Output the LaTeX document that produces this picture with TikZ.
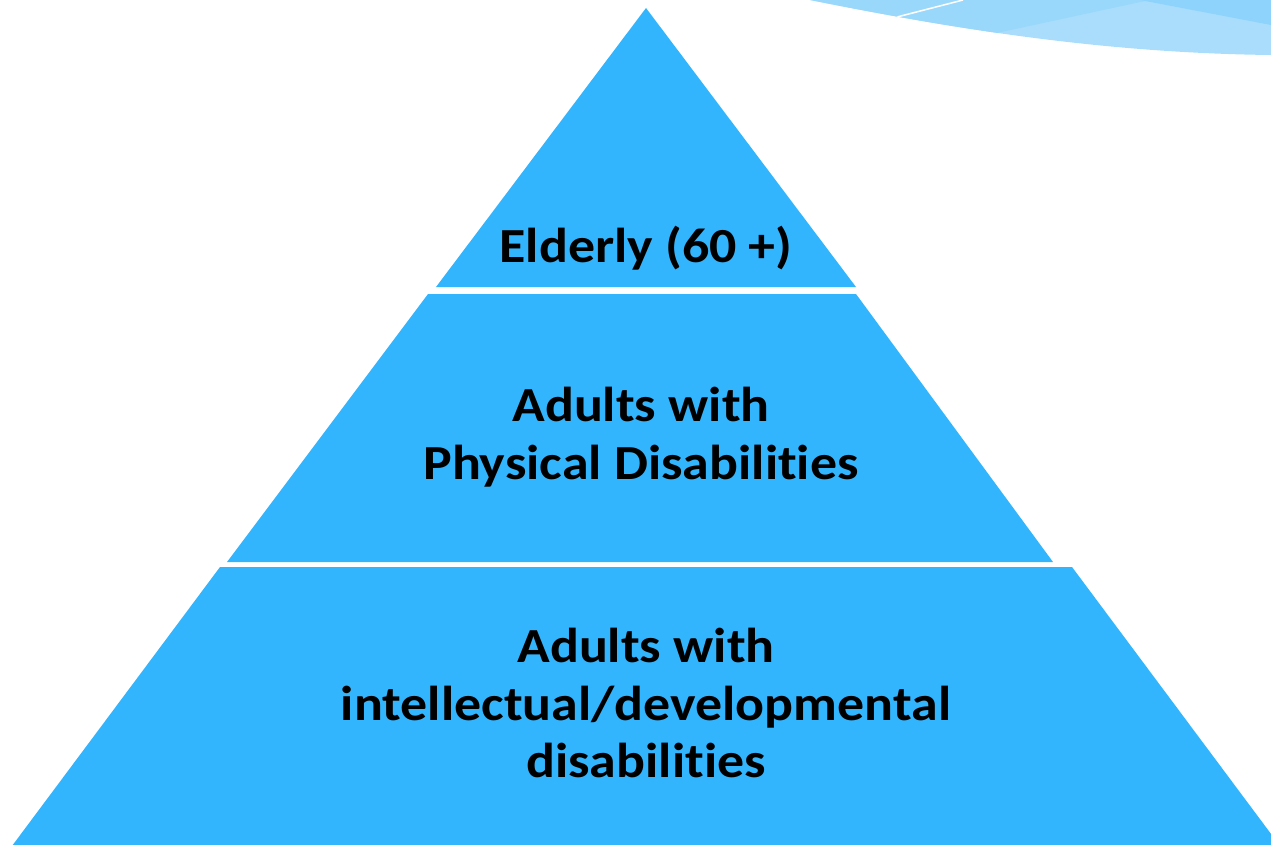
\documentclass[tikz,border=0pt]{standalone}
\usepackage{fontspec}
\setmainfont[Ligatures=NoCommon,FakeStretch=1.1]{Carlito}
\definecolor{tierblue}{HTML}{33B5FE}
\definecolor{swooshA}{HTML}{A9DDFB}
\definecolor{swooshB}{HTML}{9AD8FB}
\definecolor{swooshC}{HTML}{8ED3FB}
\begin{document}
\begin{tikzpicture}[x=1pt,y=-1pt,
  tier/.style={fill=tierblue},
  tierlabel/.style={align=center,font=\fontsize{49}{57.5}\selectfont\bfseries,inner sep=0pt}]
 \useasboundingbox (0,0) rectangle (1271,845);
 \clip (0,0) rectangle (1271,845);
 \begin{scope}
  \clip (810,0) .. controls (950,28) and (1100,53) .. (1271,55) -- (1271,-10) -- (810,-10) -- cycle;
  \fill[swooshA] (780,-10) rectangle (1280,70);
  \fill[swooshB] (1150,0) -- (997,33) -- (780,80) -- (780,-10) -- (1150,-10) -- cycle;
  \fill[swooshC] (1140,0) -- (1271,25) -- (1280,-10) -- (1140,-10) -- cycle;
  \draw[white,line width=1.5pt] (897,17) -- (963,0);
 \end{scope}
 \fill[tier] (646,8) -- (856,287) -- (436,287) -- cycle;
 \fill[tier] (428,294) -- (856,294) -- (1053,562) -- (227,562) -- cycle;
 \fill[tier] (220,567) -- (1072,567) -- (1283,850) -- (9,850) -- cycle;
 \node[tierlabel,anchor=base] (elderly) at (646,262) {Elderly (60 +)};
 \node[tierlabel] (physical) at (641,437) {Adults with\\Physical Disabilities};
 \node[tierlabel] (intellectual) at (646,703) {Adults with\\intellectual/developmental\\disabilities};
\end{tikzpicture}
\end{document}
